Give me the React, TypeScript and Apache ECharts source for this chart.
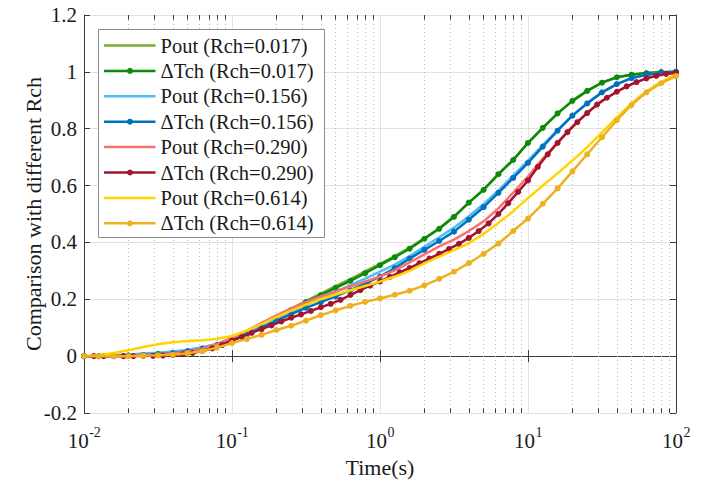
import React, { useEffect, useRef } from "react";
import * as echarts from "echarts";

const FONT = "Liberation Serif";

// sampling exponents (log10 of time): 10 per decade, and 15 per decade for the Rch=0.290 ΔTch curve
const expGrid = Array.from({ length: 41 }, (_, i) => -2 + i / 10);
const expRed = Array.from({ length: 61 }, (_, i) => -2 + i / 15);
const tGrid = expGrid.map((e) => Math.pow(10, e));
const tRed = expRed.map((e) => Math.pow(10, e));

const seriesNames = [
  "Pout (Rch=0.017)",
  "ΔTch (Rch=0.017)",
  "Pout (Rch=0.156)",
  "ΔTch (Rch=0.156)",
  "Pout (Rch=0.290)",
  "ΔTch (Rch=0.290)",
  "Pout (Rch=0.614)",
  "ΔTch (Rch=0.614)",
];
const seriesColors = ["#77AC30", "#0B8A0B", "#4DBEEE", "#0072BD", "#FA7070", "#A2142F", "#FFD500", "#EDB120"];

const poutR017 = [0, 0, 0.001, 0.003, 0.005, 0.008, 0.013, 0.02, 0.03, 0.043, 0.062, 0.086, 0.112, 0.139, 0.167, 0.194, 0.22, 0.246, 0.271, 0.298, 0.325, 0.352, 0.381, 0.415, 0.45, 0.491, 0.54, 0.586, 0.64, 0.69, 0.75, 0.803, 0.854, 0.898, 0.933, 0.962, 0.981, 0.99, 0.996, 0.999, 1.0];
const dtchR017 = [0, 0, 0.001, 0.002, 0.004, 0.007, 0.012, 0.018, 0.027, 0.04, 0.058, 0.082, 0.108, 0.135, 0.163, 0.19, 0.215, 0.24, 0.265, 0.292, 0.32, 0.348, 0.378, 0.413, 0.448, 0.49, 0.54, 0.585, 0.64, 0.69, 0.75, 0.803, 0.854, 0.898, 0.933, 0.962, 0.981, 0.99, 0.996, 0.999, 1.0];
const poutR156 = [0, 0.001, 0.003, 0.006, 0.009, 0.012, 0.016, 0.022, 0.031, 0.043, 0.06, 0.082, 0.106, 0.13, 0.155, 0.18, 0.203, 0.226, 0.25, 0.273, 0.297, 0.322, 0.352, 0.385, 0.418, 0.452, 0.492, 0.535, 0.583, 0.635, 0.688, 0.742, 0.795, 0.847, 0.89, 0.928, 0.957, 0.978, 0.99, 0.997, 1.0];
const dtchR156 = [0, 0, 0.001, 0.002, 0.004, 0.007, 0.011, 0.017, 0.026, 0.038, 0.055, 0.076, 0.1, 0.124, 0.148, 0.17, 0.19, 0.21, 0.232, 0.255, 0.28, 0.31, 0.343, 0.374, 0.405, 0.438, 0.48, 0.524, 0.574, 0.627, 0.68, 0.737, 0.793, 0.846, 0.889, 0.928, 0.957, 0.978, 0.99, 0.997, 1.0];
const poutR290 = [0, 0, 0.001, 0.002, 0.004, 0.006, 0.01, 0.016, 0.026, 0.042, 0.065, 0.09, 0.117, 0.143, 0.168, 0.19, 0.21, 0.228, 0.245, 0.262, 0.28, 0.302, 0.33, 0.358, 0.386, 0.41, 0.44, 0.474, 0.52, 0.575, 0.632, 0.695, 0.752, 0.808, 0.856, 0.898, 0.93, 0.957, 0.977, 0.99, 0.997];
const dtchR290 = [0, 0, 0, 0, 0, 0, 0.001, 0.001, 0.002, 0.004, 0.007, 0.011, 0.018, 0.027, 0.039, 0.055, 0.068, 0.082, 0.095, 0.108, 0.122, 0.135, 0.147, 0.159, 0.172, 0.184, 0.198, 0.215, 0.232, 0.248, 0.263, 0.279, 0.295, 0.31, 0.327, 0.343, 0.36, 0.377, 0.395, 0.416, 0.44, 0.467, 0.5, 0.538, 0.578, 0.618, 0.666, 0.71, 0.75, 0.788, 0.823, 0.855, 0.885, 0.909, 0.93, 0.949, 0.964, 0.977, 0.986, 0.993, 0.997];
const poutR614 = [0, 0.003, 0.011, 0.021, 0.032, 0.042, 0.049, 0.053, 0.056, 0.061, 0.071, 0.09, 0.113, 0.137, 0.16, 0.181, 0.2, 0.217, 0.232, 0.247, 0.262, 0.28, 0.3, 0.326, 0.35, 0.373, 0.397, 0.43, 0.468, 0.51, 0.556, 0.6, 0.643, 0.688, 0.735, 0.787, 0.84, 0.89, 0.932, 0.965, 0.99];
const dtchR614 = [0, 0, 0, 0, 0.002, 0.003, 0.005, 0.01, 0.018, 0.03, 0.046, 0.06, 0.075, 0.092, 0.107, 0.125, 0.144, 0.161, 0.177, 0.191, 0.203, 0.216, 0.23, 0.249, 0.272, 0.297, 0.327, 0.36, 0.396, 0.44, 0.484, 0.536, 0.59, 0.65, 0.71, 0.77, 0.83, 0.884, 0.928, 0.96, 0.985];

const seriesTimes = [tGrid, tGrid, tGrid, tGrid, tGrid, tRed, tGrid, tGrid];
const seriesValues = [poutR017, dtchR017, poutR156, dtchR156, poutR290, dtchR290, poutR614, dtchR614];

const xMin = 0.01;
const xMax = 100;
const decades = [0.01, 0.1, 1, 10];
const minorMultipliers = [2, 3, 4, 5, 6, 7, 8, 9];
const xTickValues = [0.01, 0.1, 1, 10, 100];
const xTickExponents = ["-2", "-1", "0", "1", "2"];
const yMin = -0.2;
const yMax = 1.2;
const yStep = 0.2;
const yTickValues = [-0.2, 0, 0.2, 0.4, 0.6, 0.8, 1.0, 1.2];
const yTickLabels = ["-0.2", "0", "0.2", "0.4", "0.6", "0.8", "1", "1.2"];
const xTitle = "Time(s)";
const yTitle = "Comparison with different Rch";

const TXT = "#1a1a1a";

function txt(text: string, x: number, y: number, size: number, align: string, vAlign: string, extra: any = {}) {
  return {
    type: "text",
    x,
    y,
    z: 120,
    silent: true,
    ...extra,
    style: {
      text,
      fontFamily: FONT,
      fontSize: size,
      fill: TXT,
      align,
      verticalAlign: vAlign,
      textAlign: align,
      textVerticalAlign: vAlign,
    },
  };
}

export default function App() {
  const ref = useRef<HTMLDivElement>(null);

  useEffect(() => {
    if (!ref.current) return;
    const chart = echarts.init(ref.current, undefined, { renderer: "svg" });

    const minorX: number[] = [];
    decades.forEach((d) => minorMultipliers.forEach((m) => minorX.push(d * m)));
    const tickLen = 0.016;

    const markLineData: any[] = [];
    minorX.forEach((x) => {
      markLineData.push({ xAxis: x, lineStyle: { type: [1, 3], color: "#b8b8b8", width: 1 } });
    });
    minorX.forEach((x) => {
      markLineData.push([
        { coord: [x, yMin], lineStyle: { type: "solid", color: "#3c3c3c", width: 1 } },
        { coord: [x, yMin + tickLen] },
      ]);
      markLineData.push([
        { coord: [x, yMax], lineStyle: { type: "solid", color: "#3c3c3c", width: 1 } },
        { coord: [x, yMax - tickLen] },
      ]);
    });

    const series: any[] = seriesNames.map((name, i) => {
      const isDT = name.startsWith("Δ");
      const s: any = {
        name,
        type: "line",
        data: seriesTimes[i].map((t, k) => [t, seriesValues[i][k]]),
        symbol: isDT ? "circle" : "none",
        symbolSize: 6,
        showSymbol: isDT,
        lineStyle: { width: 2.5, color: seriesColors[i] },
        itemStyle: { color: seriesColors[i] },
        color: seriesColors[i],
        z: 3 + i,
        silent: true,
      };
      if (i === 0) {
        s.markLine = {
          silent: true,
          symbol: "none",
          label: { show: false },
          animation: false,
          z: 1,
          data: markLineData,
        };
      }
      return s;
    });

    const axisCommon = {
      axisLine: { show: true, lineStyle: { color: "#3c3c3c", width: 1 } },
      axisTick: { show: true, inside: true, length: 6, lineStyle: { color: "#3c3c3c" } },
      axisLabel: { show: false },
    };

    chart.setOption({
      animation: false,
      grid: { left: 84, right: 35, top: 15, bottom: 74, containLabel: false },
      xAxis: [
        { type: "log", logBase: 10, min: xMin, max: xMax, position: "bottom", ...axisCommon, splitLine: { show: true, lineStyle: { color: "#e2e2e2", width: 1 } } },
        { type: "log", logBase: 10, min: xMin, max: xMax, position: "top", ...axisCommon, splitLine: { show: false } },
      ],
      yAxis: [
        { type: "value", min: yMin, max: yMax, interval: yStep, position: "left", ...axisCommon, splitLine: { show: true, lineStyle: { color: "#e2e2e2", width: 1 } } },
        { type: "value", min: yMin, max: yMax, interval: yStep, position: "right", ...axisCommon, splitLine: { show: false } },
      ],
      series,
    });

    // texts placed through the axes' own scales
    const gx = (v: number) => chart.convertToPixel({ xAxisIndex: 0 }, v) as number;
    const gy = (v: number) => chart.convertToPixel({ yAxisIndex: 0 }, v) as number;
    const left = gx(xMin);
    const right = gx(xMax);
    const bottom = gy(yMin);
    const top = gy(yMax);

    const graphics: any[] = [];
    yTickValues.forEach((v, i) => graphics.push(txt(yTickLabels[i], left - 7, gy(v), 21, "right", "middle")));

    const mainSize = 21;
    const supSize = 14;
    xTickValues.forEach((v, i) => {
      const sup = xTickExponents[i];
      const w10 = mainSize;
      const wSup = sup.split("").reduce((a, c) => a + (c === "-" ? 0.333 : 0.5) * supSize, 0);
      const px = gx(v) + (w10 - wSup) / 2;
      graphics.push(txt("10", px, bottom + 28, mainSize, "right", "middle"));
      graphics.push(txt(sup, px + 0.5, bottom + 19, supSize, "left", "middle"));
    });

    graphics.push(txt(xTitle, (left + right) / 2, bottom + 54, 22, "center", "middle"));
    graphics.push(txt(yTitle, left - 51, (top + bottom) / 2, 22, "center", "middle", { rotation: Math.PI / 2 }));

    // legend box
    const lgLeft = 98.5;
    const lgTop = 29.5;
    const lgW = 226;
    const lgH = 208;
    const rowH = 25.4;
    graphics.push({
      type: "rect",
      z: 110,
      silent: true,
      shape: { x: lgLeft, y: lgTop, width: lgW, height: lgH },
      style: { fill: "#ffffff", stroke: "#8c8c8c", lineWidth: 1 },
    });
    seriesNames.forEach((name, i) => {
      const cy = lgTop + 16 + i * rowH;
      graphics.push({
        type: "line",
        z: 115,
        silent: true,
        shape: { x1: lgLeft + 5.5, y1: cy, x2: lgLeft + 57, y2: cy },
        style: { stroke: seriesColors[i], lineWidth: 2.5 },
      });
      if (name.startsWith("Δ")) {
        graphics.push({
          type: "circle",
          z: 116,
          silent: true,
          shape: { cx: lgLeft + 31.5, cy, r: 3 },
          style: { fill: seriesColors[i] },
        });
      }
      graphics.push(txt(name, lgLeft + 62, cy, 20.5, "left", "middle"));
    });

    chart.setOption({ graphic: graphics });

    return () => chart.dispose();
  }, []);

  return (
    <div
      ref={ref}
      style={{ width: 711, height: 487, position: "absolute", left: 0, top: 0, fontFamily: FONT }}
    />
  );
}
